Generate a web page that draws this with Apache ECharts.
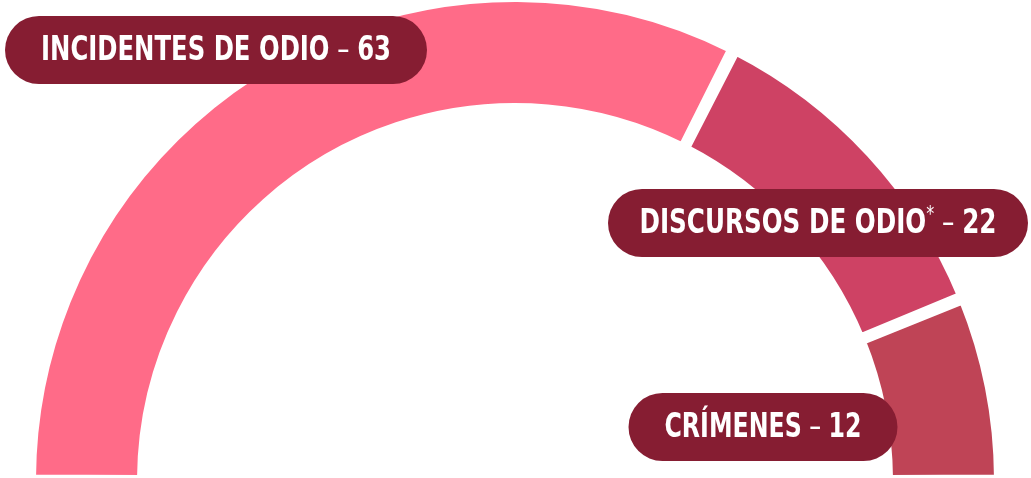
<!DOCTYPE html>
<html><head><meta charset="utf-8">
<script src="https://cdn.jsdelivr.net/npm/echarts@6/dist/echarts.min.js"></script>
<style>html,body{margin:0;padding:0;background:#fff}#c{width:1031px;height:478px}</style>
</head><body><div id="c"></div>
<script>
const categories = ['INCIDENTES DE ODIO', 'DISCURSOS DE ODIO', 'CRÍMENES'];
const values = [63, 22, 12];
const footnoteMark = ['', '*', ''];
const colors = ['#FF6B88', '#CE4264', '#BF4456'];

// label pill layout (annotation boxes)
const pillCenters = [[216, 50], [818, 223], [763, 427]];
const pillWidths = [422, 420, 269];
const textWidths = [350, 357, 197];

const FONT_FAMILY = '"DejaVu Sans Condensed", "DejaVu Sans", sans-serif';
const FS = 34, FS_SUP = 22;
const PILL = '#861D32';

const ctx = document.createElement('canvas').getContext('2d');
function measure(str, size, weight) {
  ctx.font = (weight || 'bold') + ' ' + size + 'px ' + FONT_FAMILY;
  return ctx.measureText(str).width;
}

const chart = echarts.init(document.getElementById('c'));

const labels = categories.map((c, i) => {
  const dash = ' – ';
  const num = String(values[i]);
  const natural = measure(c, FS) + (footnoteMark[i] ? measure(footnoteMark[i], FS_SUP, 'normal') : 0)
    + measure(dash, FS, 'normal') + measure(num, FS);
  const sx = textWidths[i] / natural;
  const text = '{a|' + c + '}' + (footnoteMark[i] ? '{s|' + footnoteMark[i] + '}' : '') + '{d|' + dash + '}{a|' + num + '}';
  return {
    type: 'group',
    x: pillCenters[i][0], y: pillCenters[i][1],
    z: 100,
    children: [
      { type: 'rect', z: 100, shape: { x: -pillWidths[i] / 2, y: -34, width: pillWidths[i], height: 68, r: 34 }, style: { fill: PILL } },
      { type: 'text', z: 101, x: 0, y: 1, scaleX: sx,
        style: {
          text: text, align: 'center', verticalAlign: 'middle',
          rich: {
            a: { fill: '#fff', fontFamily: FONT_FAMILY, fontWeight: 'bold', fontSize: FS, lineHeight: 40 },
            d: { fill: '#fff', fontFamily: FONT_FAMILY, fontWeight: 'normal', fontSize: FS, lineHeight: 40 },
            s: { fill: '#fff', fontFamily: FONT_FAMILY, fontWeight: 'normal', fontSize: FS_SUP, lineHeight: 40, verticalAlign: 'top' }
          }
        } }
    ]
  };
});

chart.setOption({
  animation: false,
  graphic: labels,
  series: [{
    type: 'pie',
    z: 1,
    center: [515, 481],
    radius: [374, 483],
    startAngle: 180,
    endAngle: 0,
    clockwise: true,
    padAngle: 0.6,
    itemStyle: { borderColor: '#fff', borderWidth: 8 },
    label: { show: false },
    labelLine: { show: false },
    emphasis: { disabled: true },
    data: categories.map((c, i) => ({ name: c, value: values[i], itemStyle: { color: colors[i] } }))
  }]
});
</script></body></html>
